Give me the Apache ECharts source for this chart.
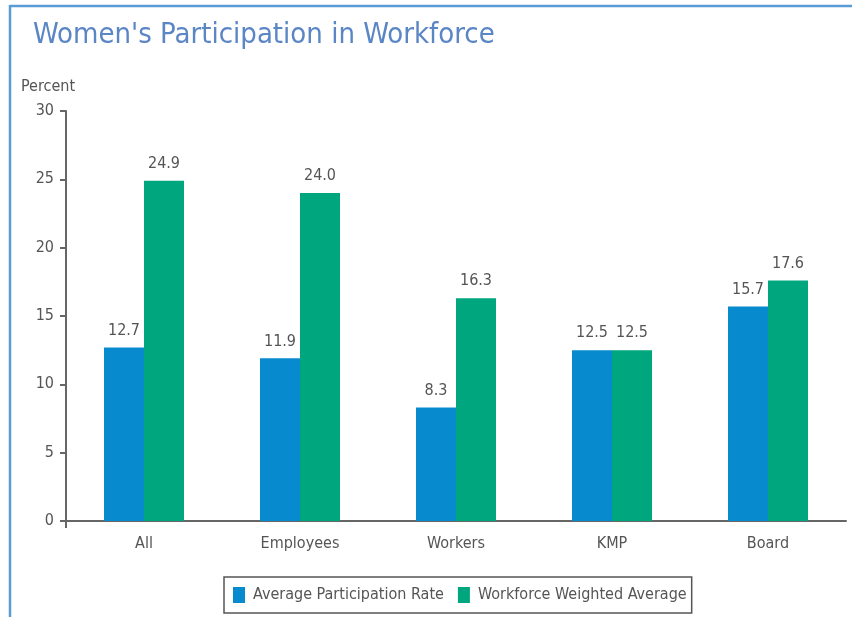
<!DOCTYPE html>
<html>
<head>
<meta charset="utf-8">
<script src="https://cdn.jsdelivr.net/npm/echarts@6/dist/echarts.min.js"></script>
<style>
  html, body { margin: 0; padding: 0; background: #fff; }
  #holder { width: 852px; height: 617px; }
</style>
</head>
<body>
<div id="holder"></div>
<script>
var categories = ['All', 'Employees', 'Workers', 'KMP', 'Board']
var avgRate = [12.7, 11.9, 8.3, 12.5, 15.7]
var weightedAvg = [24.9, 24.0, 16.3, 12.5, 17.6]
var yTicks = [0, 5, 10, 15, 20, 25, 30]

var font = "'DejaVu Sans Condensed', 'Liberation Sans Narrow', sans-serif"
var textColor = '#555'

var myChart = echarts.init(document.getElementById('holder'))

function barLabel() {
  return {
    show: true,
    position: 'top',
    distance: 9,
    color: textColor,
    fontSize: 16,
    fontFamily: font,
    formatter: p => p.value.toFixed(1)
  }
}

var option = {
  backgroundColor: '#fff',
  animation: false,
  title: {
    text: "Women's Participation in Workforce",
    left: 28,
    top: 16,
    textStyle: { color: '#5b86c6', fontSize: 29, fontWeight: 'normal', fontFamily: font }
  },
  legend: {
    left: 224,
    top: 577,
    padding: [10, 5, 10, 9],
    itemWidth: 12,
    itemHeight: 16,
    itemGap: 14,
    icon: 'rect',
    borderColor: '#555',
    borderWidth: 1.5,
    borderRadius: 0,
    textStyle: { color: textColor, fontSize: 16, fontFamily: font, padding: [0, 0, 0, 3] },
    data: ['Average Participation Rate', 'Workforce Weighted Average']
  },
  grid: { left: 66, right: 6, top: 111, bottom: 96, containLabel: false },
  xAxis: {
    type: 'category',
    data: categories,
    axisLine: { lineStyle: { color: '#666', width: 2 } },
    axisTick: { show: false },
    axisLabel: { color: textColor, fontSize: 16, fontFamily: font, margin: 15 }
  },
  yAxis: {
    type: 'value',
    min: yTicks[0],
    max: yTicks[yTicks.length - 1],
    interval: 5,
    name: 'Percent',
    nameLocation: 'end',
    nameGap: 16,
    nameTextStyle: { color: textColor, fontSize: 16, fontFamily: font, align: 'left', padding: [0, 0, 0, -45] },
    axisLine: { show: true, lineStyle: { color: '#666', width: 2 } },
    axisTick: { show: true, length: 6, lineStyle: { color: '#666', width: 2 } },
    axisLabel: { color: textColor, fontSize: 16, fontFamily: font, margin: 12 },
    splitLine: { show: false }
  },
  series: [
    {
      name: 'Average Participation Rate',
      type: 'bar',
      data: avgRate,
      barWidth: 40,
      barGap: '0%',
      itemStyle: { color: '#088bce' },
      label: barLabel()
    },
    {
      name: 'Workforce Weighted Average',
      type: 'bar',
      data: weightedAvg,
      barWidth: 40,
      itemStyle: { color: '#00a67e' },
      label: barLabel()
    }
  ]
}

myChart.setOption(option)

// frame lines, plus the y axis running a few px below the x axis
var origin = myChart.convertToPixel({ gridIndex: 0 }, [0, yTicks[0]])
myChart.setOption({
  graphic: [
    { type: 'line', shape: { x1: 10, y1: 6, x2: 852, y2: 6 }, style: { stroke: '#5b9bd5', lineWidth: 2.5 } },
    { type: 'line', shape: { x1: 10, y1: 5, x2: 10, y2: 617 }, style: { stroke: '#5b9bd5', lineWidth: 2.5 } },
    { type: 'line', shape: { x1: 66, y1: origin[1], x2: 66, y2: origin[1] + 7 }, style: { stroke: '#666', lineWidth: 2 } }
  ]
})
</script>
</body>
</html>
